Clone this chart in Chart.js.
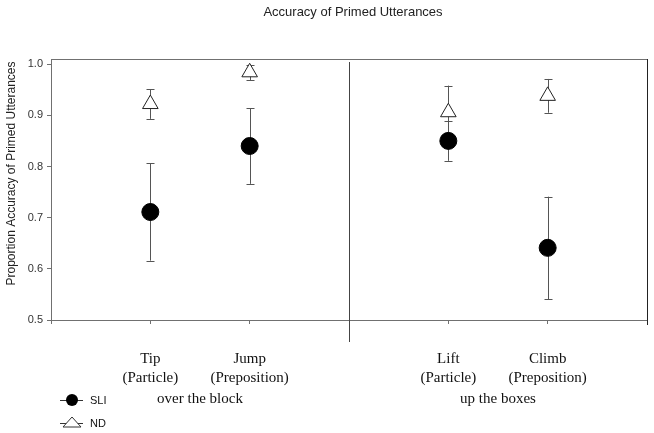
<!DOCTYPE html>
<html><head><meta charset="utf-8">
<script src="https://cdn.jsdelivr.net/npm/chart.js@4/dist/chart.umd.min.js"></script>
<style>html,body{margin:0;padding:0;background:#fff;} #wrap{width:654px;height:433px;position:relative;}</style>
</head><body><div id="wrap"><canvas id="c"></canvas></div>
<script>
const chartTitle = 'Accuracy of Primed Utterances';
const yAxisTitle = 'Proportion Accuracy of Primed Utterances';
const categories = ['Tip', 'Jump', 'Lift', 'Climb'];
const categoryTypes = ['(Particle)', '(Preposition)', '(Particle)', '(Preposition)'];
const categoryGroup = [0, 0, 1, 1];
const groups = ['over the block', 'up the boxes'];
const seriesNames = ['SLI', 'ND'];
const sliMean = [0.711, 0.840, 0.850, 0.641];
const sliErr = [0.095, 0.074, 0.039, 0.100];
const ndMean = [0.922, 0.984, 0.906, 0.938];
const ndErr = [0.029, 0.015, 0.052, 0.033];
const yTicks = [0.5, 0.6, 0.7, 0.8, 0.9, 1.0];

// slot layout: blank, group0 categories, blank, group1 categories, blank
const slots = [{ label: '', sub: '' }];
const slotOf = [];
groups.forEach((g, gi) => {
  categories.forEach((c, i) => {
    if (categoryGroup[i] === gi) { slotOf[i] = slots.length; slots.push({ label: c, sub: categoryTypes[i] }); }
  });
  slots.push({ label: '', sub: '' });
});

const SANS = '"Liberation Sans", Arial, sans-serif';
const SERIF = '"Liberation Serif", "Times New Roman", serif';
const AXIS = '#707070';

function pts(means) { return means.map((m, i) => ({ x: slotOf[i], y: m })); }

const errorBars = {
  id: 'errorBars',
  beforeDatasetsDraw(chart) {
    const { ctx, scales: { x, y } } = chart;
    const errs = [sliErr, ndErr];
    const means = [sliMean, ndMean];
    ctx.save();
    ctx.strokeStyle = '#555';
    ctx.lineWidth = 1;
    errs.forEach((e, s) => {
      e.forEach((v, i) => {
        const px = Math.round(x.getPixelForValue(slotOf[i])) + 0.5;
        const t = y.getPixelForValue(means[s][i] + v);
        const b = y.getPixelForValue(means[s][i] - v);
        ctx.beginPath();
        ctx.moveTo(px, t); ctx.lineTo(px, b);
        ctx.moveTo(px - 4, Math.round(t) + 0.5); ctx.lineTo(px + 4, Math.round(t) + 0.5);
        ctx.moveTo(px - 4, Math.round(b) + 0.5); ctx.lineTo(px + 4, Math.round(b) + 0.5);
        ctx.stroke();
      });
    });
    ctx.restore();
  }
};

const decorations = {
  id: 'decorations',
  afterDraw(chart) {
    const { ctx, chartArea: a, scales: { x, y } } = chart;
    ctx.save();
    // top border
    ctx.strokeStyle = AXIS; ctx.lineWidth = 1;
    ctx.beginPath(); ctx.moveTo(a.left, a.top + 0.5); ctx.lineTo(a.right, a.top + 0.5); ctx.stroke();
    // separators
    slots.forEach((s, i) => {
      if (i === 0 || s.label !== '') return;
      const px = Math.round(x.getPixelForValue(i)) + 0.5;
      ctx.beginPath();
      if (i === slots.length - 1) {
        ctx.strokeStyle = '#222';
        ctx.moveTo(px, a.top); ctx.lineTo(px, a.bottom + 5);
      } else {
        ctx.strokeStyle = '#444';
        ctx.moveTo(px, a.top + 3); ctx.lineTo(px, a.bottom + 22);
      }
      ctx.stroke();
    });
    // group labels
    ctx.fillStyle = '#111';
    ctx.font = '15px ' + SERIF;
    ctx.textAlign = 'center'; ctx.textBaseline = 'middle';
    groups.forEach((g, gi) => {
      const idx = slotOf.filter((s, i) => categoryGroup[i] === gi);
      const mid = (x.getPixelForValue(idx[0]) + x.getPixelForValue(idx[idx.length - 1])) / 2;
      ctx.fillText(g, mid, 399);
    });
    // title
    ctx.font = '13px ' + SANS;
    ctx.fillStyle = '#222';
    ctx.fillText(chartTitle, (a.left + a.right) / 2 + 4, 12);
    // y axis title
    ctx.save();
    ctx.translate(12, (a.top + a.bottom) / 2 - 16);
    ctx.rotate(-Math.PI / 2);
    ctx.font = '12px ' + SANS;
    ctx.fillText(yAxisTitle, 0, 0);
    ctx.restore();
    // legend
    const lx = 72;
    const rows = [400, 423];
    ctx.strokeStyle = '#333'; ctx.lineWidth = 1;
    rows.forEach((ry, k) => {
      ctx.beginPath(); ctx.moveTo(lx - 12, ry + 0.5); ctx.lineTo(lx + 11, ry + 0.5); ctx.stroke();
      if (k === 0) {
        ctx.fillStyle = '#000';
        ctx.beginPath(); ctx.arc(lx, ry, 6, 0, Math.PI * 2); ctx.fill();
      } else {
        ctx.fillStyle = '#fff';
        ctx.beginPath(); ctx.moveTo(lx, ry - 6); ctx.lineTo(lx + 9, ry + 4); ctx.lineTo(lx - 9, ry + 4); ctx.closePath();
        ctx.fill(); ctx.stroke();
      }
      ctx.fillStyle = '#111';
      ctx.font = '11px ' + SANS;
      ctx.textAlign = 'left';
      ctx.fillText(seriesNames[k], 90, ry + 1);
    });
    ctx.restore();
  }
};

new Chart(document.getElementById('c'), {
  type: 'scatter',
  data: {
    datasets: [
      { label: seriesNames[0], data: pts(sliMean), pointStyle: 'circle', radius: 8.5, hoverRadius: 8.5,
        backgroundColor: '#000', borderColor: '#000', borderWidth: 1 },
      { label: seriesNames[1], data: pts(ndMean), pointStyle: 'triangle', radius: 9, hoverRadius: 9,
        backgroundColor: '#fff', borderColor: '#222', borderWidth: 1 }
    ]
  },
  options: {
    responsive: true, maintainAspectRatio: false, animation: false,
    layout: { autoPadding: false, padding: { left: 0, right: 7, top: 59, bottom: 0 } },
    plugins: { legend: { display: false }, title: { display: false }, tooltip: { enabled: false } },
    scales: {
      x: {
        type: 'linear', min: 0, max: slots.length - 1,
        afterBuildTicks(s) { s.ticks = slots.map((_, i) => ({ value: i })); },
        afterFit(s) { s.height = 113; s.paddingLeft = 0; s.paddingRight = 0; },
        grid: { drawOnChartArea: false, drawTicks: true, tickLength: 4, color: AXIS },
        border: { display: true, color: AXIS },
        ticks: {
          autoSkip: false, maxRotation: 0, padding: 26, color: '#111',
          font: { family: SERIF, size: 15, lineHeight: 1.25 },
          callback: (v) => { const s = slots[v]; return s && s.label ? [s.label, s.sub] : ''; }
        }
      },
      y: {
        min: 0.5, max: 1.01,
        afterBuildTicks(s) { s.ticks = yTicks.map(v => ({ value: v })); },
        afterFit(s) { s.width = 51; s.paddingTop = 0; s.paddingBottom = 0; },
        grid: { drawOnChartArea: false, drawTicks: true, tickLength: 4, color: AXIS },
        border: { display: true, color: AXIS },
        ticks: { padding: 4, color: '#333', font: { family: SANS, size: 11 }, callback: v => v.toFixed(1) }
      }
    }
  },
  plugins: [errorBars, decorations]
});
</script>
</body></html>
